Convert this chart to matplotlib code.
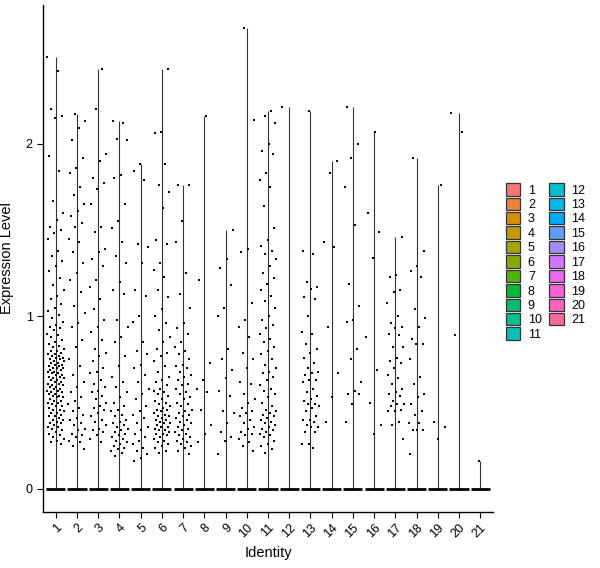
import numpy as np
import matplotlib
matplotlib.use("Agg")
import matplotlib.pyplot as plt
from matplotlib.patches import Patch

plt.rcParams['font.family'] = ['Liberation Sans', 'DejaVu Sans']

# ....... Data (non-zero expression values per cluster) ........

identities = [str(i) for i in range(1, 22)]

c1 = [2.50, 2.42, 2.20, 2.16, 2.15, 1.93, 1.84, 1.67, 1.60, 1.56, 1.52, 1.50, 1.48, 1.45,
      1.38, 1.35, 1.32, 1.29, 1.26, 1.22, 1.18, 1.15, 1.12, 1.10, 1.07, 1.05, 1.03, 1.01,
      0.99, 0.97, 0.95, 0.94, 0.93, 0.92, 0.90, 0.89, 0.88, 0.86, 0.85, 0.84, 0.83, 0.82,
      0.81, 0.80, 0.80, 0.79, 0.78, 0.78, 0.77, 0.77, 0.76, 0.76, 0.75, 0.75, 0.74, 0.74,
      0.73, 0.73, 0.72, 0.72, 0.71, 0.71, 0.70, 0.70, 0.70, 0.69, 0.69, 0.68, 0.68, 0.67,
      0.67, 0.66, 0.66, 0.65, 0.65, 0.64, 0.64, 0.63, 0.63, 0.62, 0.62, 0.61, 0.61, 0.60,
      0.60, 0.59, 0.59, 0.58, 0.58, 0.57, 0.57, 0.56, 0.56, 0.55, 0.55, 0.54, 0.54, 0.53,
      0.53, 0.52, 0.51, 0.51, 0.50, 0.50, 0.49, 0.48, 0.48, 0.47, 0.46, 0.46, 0.45, 0.44,
      0.44, 0.43, 0.42, 0.42, 0.41, 0.40, 0.40, 0.39, 0.38, 0.38, 0.37, 0.36, 0.36, 0.35,
      0.34, 0.33, 0.32, 0.31, 0.30, 0.29, 0.28, 0.27, 0.26]
c2 = [2.17, 2.13, 2.09, 2.02, 1.92, 1.86, 1.83, 1.75, 1.70, 1.65, 1.61, 1.58, 1.54, 1.52,
      1.45, 1.43, 1.37, 1.31, 1.25, 1.21, 1.14, 1.06, 1.02, 0.96, 0.94, 0.86, 0.82, 0.75,
      0.71, 0.66, 0.62, 0.59, 0.56, 0.53, 0.51, 0.49, 0.47, 0.45, 0.43, 0.41, 0.40, 0.38,
      0.37, 0.35, 0.34, 0.32, 0.31, 0.30, 0.28, 0.27, 0.25, 0.23]
c3 = [2.43, 2.20, 1.94, 1.90, 1.80, 1.77, 1.74, 1.65, 1.52, 1.49, 1.39, 1.37, 1.33, 1.29,
      1.21, 1.17, 1.10, 1.04, 0.98, 0.94, 0.91, 0.86, 0.81, 0.79, 0.77, 0.74, 0.70, 0.68,
      0.67, 0.63, 0.61, 0.59, 0.57, 0.56, 0.54, 0.52, 0.50, 0.48, 0.47, 0.46, 0.44, 0.42,
      0.40, 0.39, 0.37, 0.35, 0.34, 0.33, 0.31, 0.29, 0.27]
c4 = [2.13, 2.12, 2.03, 2.02, 1.82, 1.80, 1.65, 1.55, 1.51, 1.43, 1.35, 1.31, 1.20, 1.15,
      1.13, 0.98, 0.94, 0.88, 0.85, 0.77, 0.71, 0.65, 0.62, 0.59, 0.56, 0.53, 0.50, 0.48,
      0.46, 0.45, 0.43, 0.42, 0.40, 0.39, 0.38, 0.37, 0.36, 0.35, 0.34, 0.33, 0.32, 0.31,
      0.30, 0.29, 0.28, 0.27, 0.26, 0.25, 0.24, 0.23, 0.22, 0.21, 0.19]
c5 = [1.88, 1.84, 1.79, 1.42, 1.40, 1.31, 1.15, 1.12, 1.00, 0.97, 0.85, 0.80, 0.78, 0.72,
      0.70, 0.66, 0.62, 0.58, 0.55, 0.52, 0.48, 0.45, 0.43, 0.41, 0.38, 0.36, 0.34, 0.32,
      0.30, 0.28, 0.26, 0.24, 0.22, 0.20, 0.18, 0.16]
c6 = [2.43, 2.07, 2.06, 1.88, 1.76, 1.72, 1.63, 1.44, 1.42, 1.31, 1.27, 1.23, 1.15, 1.11,
      1.04, 1.00, 0.96, 0.92, 0.88, 0.85, 0.81, 0.79, 0.77, 0.74, 0.71, 0.68, 0.65, 0.63,
      0.62, 0.60, 0.58, 0.57, 0.56, 0.55, 0.54, 0.52, 0.51, 0.50, 0.49, 0.48, 0.47, 0.46,
      0.46, 0.45, 0.44, 0.43, 0.42, 0.42, 0.41, 0.40, 0.40, 0.39, 0.38, 0.38, 0.37, 0.36,
      0.36, 0.35, 0.34, 0.34, 0.33, 0.32, 0.32, 0.31, 0.30, 0.29, 0.28, 0.27, 0.26, 0.25,
      0.24, 0.22, 0.21]
c7 = [1.76, 1.76, 1.55, 1.43, 1.25, 1.13, 1.05, 0.96, 0.93, 0.90, 0.85, 0.82, 0.80, 0.78,
      0.75, 0.72, 0.71, 0.70, 0.68, 0.66, 0.65, 0.63, 0.61, 0.60, 0.58, 0.56, 0.55, 0.53,
      0.52, 0.50, 0.49, 0.48, 0.46, 0.45, 0.44, 0.43, 0.42, 0.41, 0.40, 0.39, 0.38, 0.37,
      0.36, 0.35, 0.34, 0.33, 0.32, 0.31, 0.30, 0.29, 0.28, 0.27, 0.26, 0.25, 0.24, 0.22,
      0.20]
c8 = [2.16, 1.21, 0.73, 0.63, 0.58, 0.56, 0.46, 0.37, 0.32, 0.27]
c9 = [1.50, 1.33, 1.28, 1.18, 1.05, 1.00, 0.81, 0.75, 0.69, 0.64, 0.57, 0.54, 0.45, 0.44,
      0.38, 0.33, 0.30, 0.28, 0.20]
c10 = [2.67, 2.14, 1.39, 1.37, 1.08, 0.98, 0.94, 0.88, 0.79, 0.75, 0.70, 0.62, 0.61, 0.55,
       0.52, 0.50, 0.47, 0.45, 0.44, 0.42, 0.40, 0.38, 0.36, 0.35, 0.33, 0.32, 0.31, 0.29,
       0.27, 0.25, 0.22]
c11 = [2.19, 2.16, 2.12, 2.00, 1.96, 1.94, 1.83, 1.79, 1.75, 1.64, 1.51, 1.44, 1.41, 1.38,
       1.36, 1.33, 1.29, 1.25, 1.22, 1.19, 1.15, 1.12, 1.09, 1.05, 1.00, 0.98, 0.95, 0.93,
       0.90, 0.87, 0.85, 0.82, 0.80, 0.78, 0.75, 0.72, 0.70, 0.68, 0.67, 0.65, 0.63, 0.60,
       0.58, 0.57, 0.55, 0.53, 0.50, 0.48, 0.46, 0.45, 0.44, 0.43, 0.42, 0.41, 0.40, 0.39,
       0.38, 0.37, 0.36, 0.35, 0.34, 0.33, 0.32, 0.31, 0.30, 0.28, 0.26, 0.25, 0.23, 0.21]
c12 = [2.21]
c13 = [2.19, 1.38, 1.36, 1.20, 1.17, 1.16, 1.11, 1.10, 1.00, 0.91, 0.90, 0.84, 0.81, 0.79,
       0.76, 0.73, 0.70, 0.68, 0.67, 0.66, 0.63, 0.63, 0.62, 0.58, 0.56, 0.54, 0.52, 0.51,
       0.49, 0.49, 0.48, 0.47, 0.45, 0.42, 0.40, 0.40, 0.39, 0.37, 0.36, 0.36, 0.33, 0.33,
       0.26, 0.26, 0.24]
c14 = [1.90, 1.83, 1.43, 1.40, 0.94, 0.67, 0.53, 0.39]
c15 = [2.21, 2.00, 1.92, 1.75, 1.53, 1.19, 1.06, 0.98, 0.97, 0.81, 0.75, 0.62, 0.57, 0.55,
       0.55, 0.49, 0.39]
c16 = [2.07, 1.60, 1.49, 1.34, 0.88, 0.69, 0.50, 0.37, 0.32]
c17 = [1.46, 1.24, 1.23, 1.15, 1.14, 1.08, 1.00, 0.96, 0.94, 0.93, 0.90, 0.89, 0.82, 0.82,
       0.76, 0.74, 0.73, 0.70, 0.66, 0.64, 0.61, 0.58, 0.56, 0.55, 0.54, 0.51, 0.49, 0.49,
       0.48, 0.46, 0.45, 0.45, 0.39, 0.37, 0.29]
c18 = [1.92, 1.38, 1.29, 1.26, 1.23, 1.04, 0.99, 0.94, 0.87, 0.84, 0.84, 0.75, 0.65, 0.61,
       0.55, 0.53, 0.49, 0.45, 0.43, 0.38, 0.38, 0.34, 0.34, 0.34, 0.20]
c19 = [1.76, 0.39, 0.36, 0.29]
c20 = [2.18, 2.07, 0.89]
c21 = [0.16]

clusters = [c1, c2, c3, c4, c5, c6, c7, c8, c9, c10, c11, c12, c13, c14, c15, c16, c17,
            c18, c19, c20, c21]

# ggplot default hue palette for 21 levels
colours = ["#F8766D", "#EB8335", "#DA8F00", "#C49A00", "#A9A400", "#86AC00", "#53B400",
           "#00BA38", "#00BE6D", "#00C094", "#00C0B5", "#00BDD2", "#00B6EB", "#00ABFD",
           "#619CFF", "#A58AFF", "#D078FF", "#EC69EF", "#FB61D7", "#FF62BC", "#FF6A9A"]

# ....... Plot ........

fig = plt.figure(figsize=(6.0, 5.68), dpi=100)
ax = fig.add_axes([43 / 600, 56 / 568, 450 / 600, 507 / 568])

xs = np.arange(1, len(identities) + 1)
maxes = np.array([max(c) for c in clusters])

# Violins collapse to a line from 0 to the max plus a wide foot at 0
ax.vlines(xs, 0, maxes, color='#333333', lw=0.8, zorder=2)
ax.hlines(np.zeros(len(xs)), xs - 0.45, xs + 0.45, color='black', lw=2.0, zorder=2)

# Jittered points (deterministic spread)
golden = 0.6180339887
for i, vals in enumerate(clusters):
    n = len(vals)
    frac = (np.arange(n) * golden + i * 0.37) % 1.0
    jit = (frac - 0.5) * 0.8
    ax.scatter(xs[i] + jit, vals, s=3.2, color='black', marker='s', linewidths=0, zorder=3)

ymax = maxes.max()
ax.set_xlim(0.4, len(identities) + 0.6)
ax.set_ylim(-0.05 * ymax, ymax * 1.05)

ax.set_xticks(xs)
ax.set_xticklabels(identities, rotation=45, ha='right', va='top', rotation_mode='anchor')
ax.set_yticks([0, 1, 2])
ax.tick_params(axis='both', labelsize=9, length=4, width=0.8, colors='black')
ax.tick_params(axis='x', pad=3)

for side in ['top', 'right']:
    ax.spines[side].set_visible(False)
for side in ['left', 'bottom']:
    ax.spines[side].set_linewidth(1.0)

ax.set_xlabel('Identity', fontsize=10.5, labelpad=4)
ax.set_ylabel('Expression Level', fontsize=10.5, labelpad=8)

handles = [Patch(facecolor=c, edgecolor='#333333', linewidth=0.9) for c in colours]
fig.legend(handles, identities, ncol=2, loc='center left',
           bbox_to_anchor=(506 / 600, 1 - 262 / 568), frameon=False, fontsize=9,
           handlelength=1.15, handleheight=1.15, labelspacing=0.08,
           handletextpad=0.6, columnspacing=0.6, borderpad=0, borderaxespad=0)

fig.savefig('out.png', dpi=100)
